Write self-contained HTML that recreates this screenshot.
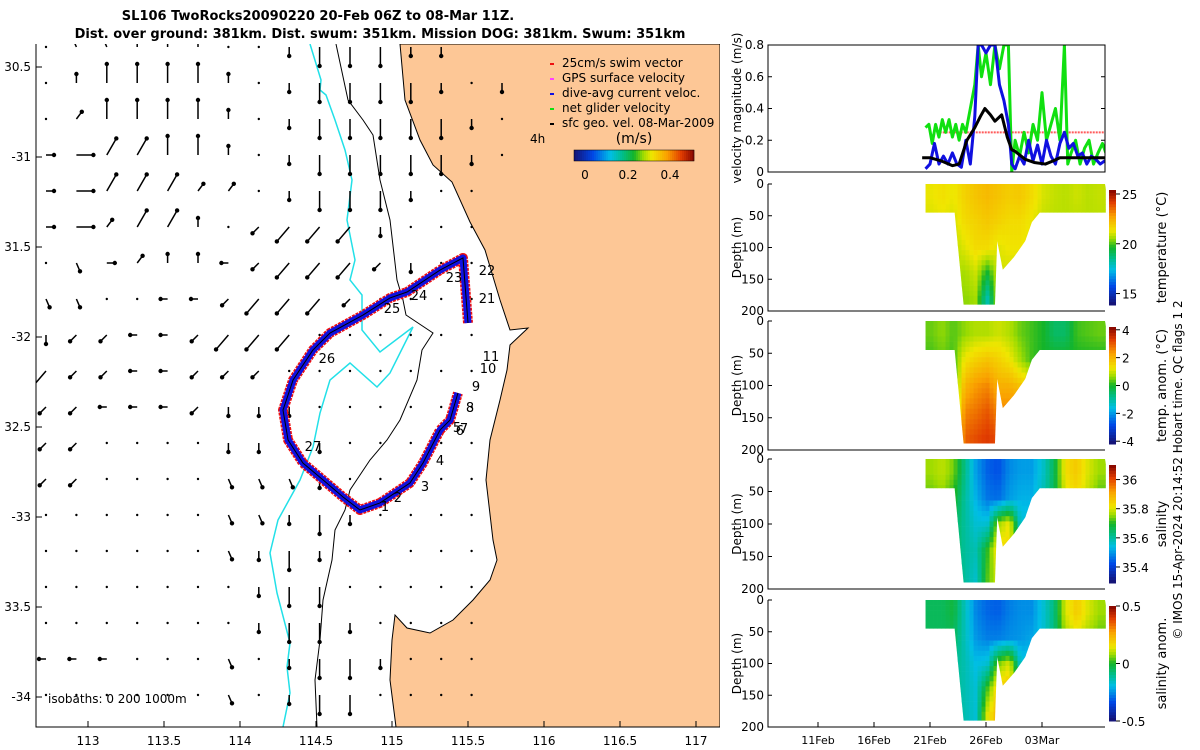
<!DOCTYPE html>
<html><head><meta charset="utf-8">
<style>
html,body{margin:0;padding:0;background:#fff;}
svg{display:block;font-family:"DejaVu Sans","Liberation Sans",sans-serif;}
</style></head>
<body>
<svg id="fig" width="1200" height="750" viewBox="0 0 1200 750" xmlns="http://www.w3.org/2000/svg">
<text x="318" y="20" font-size="13" font-weight="bold" text-anchor="middle">SL106 TwoRocks20090220 20-Feb 06Z to 08-Mar 11Z.</text>
<text x="380" y="38" font-size="13" font-weight="bold" text-anchor="middle">Dist. over ground: 381km. Dist. swum: 351km. Mission DOG: 381km. Swum: 351km</text>
<g id="map"></g>
<g id="right"></g>
<text transform="translate(1182,470) rotate(-90)" font-size="12" text-anchor="middle">© IMOS 15-Apr-2024 20:14:52 Hobart time. QC flags 1  2</text>
</svg>
<script>
// ---------- data ----------
const lonTicks=[113,113.5,114,114.5,115,115.5,116,116.5,117];
const latTicks=[-30.5,-31,-31.5,-32,-32.5,-33,-33.5,-34];
const latTickLabels=["30.5","-31","31.5","-32","32.5","-33","33.5","-34"];
const trackLon=[115.50,115.467,115.316,115.099,114.987,114.809,114.592,114.480,114.349,114.283,114.316,114.414,114.546,114.678,114.789,114.921,115.118,115.204,115.316,115.382,115.434];
const trackLat=[-31.922,-31.561,-31.628,-31.75,-31.783,-31.878,-31.978,-32.072,-32.239,-32.406,-32.572,-32.700,-32.794,-32.889,-32.961,-32.922,-32.811,-32.700,-32.517,-32.461,-32.311];
const dayLabels=["1","2","3","4","5","6","7","8","9","10","11","21","22","23","24","25","26","27"];
const dayLon=[114.954,115.039,115.217,115.316,115.428,115.447,115.474,115.513,115.553,115.632,115.651,115.625,115.625,115.408,115.178,115.0,114.572,114.480];
const dayLat=[-32.939,-32.889,-32.828,-32.683,-32.5,-32.517,-32.506,-32.389,-32.272,-32.172,-32.106,-31.783,-31.628,-31.667,-31.767,-31.839,-32.117,-32.606];
const vecRows=[
".qqnnn..sSSSss",
".nNNNNn.sSSSSs.s",
".rNNNNn.sSSSSSs.",
"eERRNNn.sSSSSSs.",
"eERRRrr.sSSSs..",
"eErRRn.wWWWs...",
".xernnlwWWWws..",
"xx..llwWWWw....",
"swwllwWWW......",
"Wwwllwww.......",
"wwlllwsss......",
"ww....ss.s.....",
"ww....xxxs.....",
"......xxsSs....",
"......xsSs.....",
".......sSS.....",
".......sSSs....",
"lll...x.sSSs...",
"......x.sSS....",
"......x.sSS...."];
const velTicks=[0,0.2,0.4,0.6,0.8];
const velTickLabels=["0","0.2","0.4","0.6","0.8"];
const greenDays=[20.6,20.9,21.2,21.5,21.8,22.1,22.4,22.7,23,23.3,23.6,23.9,24.2,24.6,25,25.3,25.6,26,26.4,26.8,27.2,27.6,28,28.3,28.6,29,29.4,29.8,30.2,30.6,31,31.4,31.8,32.2,32.6,33,33.3,33.6,34,34.4,34.8,35.2,35.6,36,36.4,36.8,37.1];
const greenVals=[0.28,0.3,0.18,0.3,0.22,0.33,0.25,0.33,0.22,0.3,0.2,0.3,0.25,0.4,0.55,0.8,0.6,0.75,0.55,0.8,0.65,0.8,0.8,0.0,0.2,0.1,0.25,0.12,0.3,0.2,0.5,0.2,0.3,0.4,0.2,0.8,0.05,0.12,0.2,0.05,0.15,0.2,0.05,0.12,0.18,0.1,0.15];
const blueDays=[20.6,21,21.4,21.8,22.2,22.6,23,23.4,23.8,24.2,24.6,25,25.3,25.6,26,26.4,26.8,27.2,27.6,28,28.3,28.6,29,29.4,29.8,30.2,30.6,31,31.4,31.8,32.2,32.6,33,33.4,33.8,34.2,34.6,35,35.4,35.8,36.2,36.6,37.1];
const blueVals=[0.02,0.05,0.18,0.05,0.1,0.05,0.12,0.05,0.03,0.2,0.05,0.35,0.8,0.8,0.75,0.8,0.8,0.55,0.45,0.3,0.05,0.02,0.1,0.05,0.2,0.07,0.17,0.05,0.2,0.1,0.05,0.18,0.25,0.15,0.18,0.1,0.12,0.05,0.1,0.08,0.05,0.07,0.07];
const blackDays=[20.3,21,22,23,23.6,24.3,25,25.5,25.9,26.4,26.8,27.4,27.9,28.3,28.6,29.5,30.3,31.3,32,32.6,33.5,34.5,35.5,37.1];
const blackVals=[0.09,0.09,0.07,0.04,0.05,0.2,0.28,0.35,0.4,0.36,0.32,0.36,0.22,0.14,0.13,0.08,0.06,0.05,0.07,0.09,0.09,0.09,0.09,0.09];
const swimRef=[0.25];
const dateTicks=[11,16,21,26,31];
const dateLabels=["11Feb","16Feb","21Feb","26Feb","03Mar"];
const envDays=[20.6,22.6,23.2,24,25,26,26.8,27,27.5,28.5,29.5,30.1,30.8,37.1];
const envDepth=[45,45,45,190,190,190,190,90,135,115,90,60,45,45];
const binStart=[20.6,21.6,22.6,23.6,24.6,25.6,26.6,27.6,28.6,29.6,30.6,31.6,32.6,33.6,34.6,35.6];
const tempVals=[[21.3,21.5,21.3,21.8,22.1,22.3,22.1,21.9,22,21.6,21.1,20.9,20.8,21,20.8,20.9],[21.1,21.2,21.1,21.6,21.8,22,21.8,21.6,21.6,21.3,20.9,20.8,20.8,20.8,20.8,20.8],[20.8,20.8,20.8,21.2,21.6,21.6,21.2,21.4,21.4,21.1,20.8,20.8,20.8,20.8,20.8,20.8],[20.8,20.8,20.8,20.6,21,19.5,21,21,20.8,20.8,20.8,20.8,20.8,20.8,20.8,20.8],[20.8,20.8,20.8,20.4,20.6,18,20.8,20.8,20.8,20.8,20.8,20.8,20.8,20.8,20.8,20.8]];
const tAnomVals=[[0.4,0.6,0.3,0.6,0.8,0.8,1,0.8,0.4,0.2,0,-0.5,-0.5,0.2,0.3,0.4],[0.2,0.4,0.2,1.3,1.6,1.8,1.6,1.3,0.7,0.2,0,0,0,0,0,0],[0,0,0,2,2.4,2.6,2.1,2.1,1.8,1.4,1,1,1,1,1,1],[0,0,0,2.6,2.8,3.1,2.6,2.6,2.6,2.6,2.6,2.6,2.6,2.6,2.6,2.6],[0,0,0,3,3.2,3.4,3.2,3.2,3.2,3.2,3.2,3.2,3.2,3.2,3.2,3.2]];
const salVals=[[35.76,35.78,35.74,35.62,35.5,35.44,35.42,35.48,35.5,35.5,35.56,35.66,35.83,35.86,35.8,35.76],[35.73,35.75,35.7,35.6,35.52,35.46,35.45,35.5,35.52,35.52,35.58,35.66,35.8,35.83,35.78,35.72],[35.66,35.66,35.66,35.6,35.55,35.55,35.76,35.82,35.55,35.55,35.55,35.55,35.55,35.55,35.55,35.55],[35.66,35.66,35.66,35.6,35.58,35.7,35.84,35.84,35.62,35.62,35.62,35.62,35.62,35.62,35.62,35.62],[35.66,35.66,35.66,35.6,35.56,35.72,35.8,35.8,35.62,35.62,35.62,35.62,35.62,35.62,35.62,35.62]];
const salAnomVals=[[-0.05,-0.05,-0.02,-0.15,-0.27,-0.31,-0.32,-0.28,-0.26,-0.26,-0.18,-0.08,0.13,0.2,0.13,0.08],[-0.05,-0.05,-0.05,-0.15,-0.25,-0.28,-0.28,-0.26,-0.25,-0.23,-0.18,-0.08,0.08,0.13,0.08,0.04],[-0.1,-0.1,-0.1,-0.14,-0.2,-0.18,0.05,0.13,-0.18,-0.18,-0.18,-0.18,-0.18,-0.18,-0.18,-0.18],[-0.1,-0.1,-0.1,-0.14,-0.18,0.02,0.2,0.22,-0.05,-0.05,-0.05,-0.05,-0.05,-0.05,-0.05,-0.05],[-0.1,-0.1,-0.1,-0.14,-0.18,0.13,0.25,0.25,-0.05,-0.05,-0.05,-0.05,-0.05,-0.05,-0.05,-0.05]];
const depthTicks=[0,50,100,150,200];

// ---------- helpers ----------
const NS="http://www.w3.org/2000/svg";
function mk(tag,attrs,parent){const e=document.createElementNS(NS,tag);for(const k in attrs)e.setAttribute(k,attrs[k]);parent.appendChild(e);return e;}
const cmapStops=[[0,[20,20,120]],[0.15,[0,70,230]],[0.3,[0,190,230]],[0.4,[0,190,140]],[0.5,[20,180,40]],[0.58,[160,220,0]],[0.65,[240,230,0]],[0.78,[250,160,0]],[0.9,[225,60,0]],[1,[140,10,0]]];
function jet(t){t=Math.max(0,Math.min(1,t));for(let i=1;i<cmapStops.length;i++){const [t1,c1]=cmapStops[i];if(t<=t1){const [t0,c0]=cmapStops[i-1];const f=(t-t0)/(t1-t0);return `rgb(${Math.round(c0[0]+(c1[0]-c0[0])*f)},${Math.round(c0[1]+(c1[1]-c0[1])*f)},${Math.round(c0[2]+(c1[2]-c0[2])*f)})`;}}return 'rgb(140,10,0)';}
const lonX=l=>88+(l-113)*152;
const latY=l=>67+(-30.5-l)*180;
const map=document.getElementById('map');
const right=document.getElementById('right');

// ---------- map ----------
mk('defs',{},map).innerHTML='<clipPath id="mapclip"><rect x="36" y="44" width="684" height="683"/></clipPath>';
const mg=mk('g',{'clip-path':'url(#mapclip)'},map);
let land=mk('path',{d:"M400,44 L405,100 L420,140 L433,165 L452,182 L470,222 L485,250 L500,300 L510,330 L528,328 L510,345 L507,370 L500,400 L490,440 L486,480 L493,540 L497,560 L490,580 L473,600 L453,620 L430,633 L407,628 L395,615 L392,640 L390,680 L396,727 L720,727 L720,44 Z",fill:"#fdc796",stroke:"#000","stroke-width":"1"},mg);


let iso200=mk('path',{d:"M310,44 L321,80 L320,90 L326,95 L335,120 L345,150 L352,180 L347,220 L355,260 L350,280 L362,295 L362,330 L380,352 L413,327 L390,373 L377,387 L350,363 L330,380 L320,413 L313,447 L300,480 L278,520 L270,553 L277,593 L290,643 L287,667 L290,693 L283,727",fill:"none",stroke:"#22e0e8","stroke-width":"1.5"},mg);


let iso1000=mk('path',{d:"M336,44 L348,100 L363,120 L373,135 L380,180 L390,220 L397,280 L403,300 L406,315 L433,333 L422,350 L417,380 L400,420 L387,440 L370,460 L350,490 L345,510 L335,530 L332,560 L323,600 L320,640 L315,680 L317,727",fill:"none",stroke:"#000","stroke-width":"1"},mg);


const dirs={N:[0,-1,19],n:[0,-1,9],S:[0,1,19],s:[0,1,9],W:[-0.65,0.76,19],w:[-0.7,0.7,9],E:[1,0,17],e:[1,0,8],R:[0.5,-0.87,19],r:[0.6,-0.8,9],l:[-1,0,7],x:[0.4,0.92,9],q:[-0.4,-0.92,10]};
vecRows.forEach((row,j)=>{
  for(let i=0;i<row.length;i++){
    const x=46+i*30.4, y=47+j*36, c=row[i], d=dirs[c];
    const ex=d?x+d[0]*d[2]:x, ey=d?y+d[1]*d[2]:y;
    if(d){const a=mk('line',{x1:x,y1:y,x2:ex,y2:ey,stroke:"#000","stroke-width":"1.5"},mg);
      
      }
    mk('circle',{cx:ex,cy:ey,r:d?2.2:1.2,fill:"#000"},mg);
  }
});
const pts=trackLon.map((l,i)=>lonX(l)+','+latY(trackLat[i])).join(' ');
let trd=mk('polyline',{points:pts,fill:"none",stroke:"#ee1010","stroke-width":"10","stroke-linejoin":"round","stroke-dasharray":"3 1"},mg);


let tb=mk('polyline',{points:pts,fill:"none",stroke:"#1010e0","stroke-width":"7","stroke-linejoin":"round"},mg);


mk('polyline',{points:pts,fill:"none",stroke:"#000","stroke-width":"1"},mg);
dayLabels.forEach((t,i)=>{const e=mk('text',{x:lonX(dayLon[i]),y:latY(dayLat[i])+5,'font-size':"13","text-anchor":"middle"},mg);e.textContent=t;
 
 });
mk('polyline',{points:"36,44 36,727 720,727",fill:"none",stroke:"#000"},map);
lonTicks.forEach(l=>{const x=lonX(l);mk('line',{x1:x,y1:727,x2:x,y2:721,stroke:"#000"},map);
 const t=mk('text',{x:x,y:745,'font-size':"12","text-anchor":"middle"},map);t.textContent=l;
 
 });
latTicks.forEach((l,i)=>{const y=latY(l);mk('line',{x1:36,y1:y,x2:42,y2:y,stroke:"#000"},map);
 const t=mk('text',{x:31,y:y+4,'font-size':"12","text-anchor":"end"},map);t.textContent=latTickLabels[i];
 
 });
let iso=mk('text',{x:48,y:703,'font-size':"12"},map);iso.textContent="isobaths: 0   200  1000m";


const leg=[["#ee1010","25cm/s swim vector"],["#ff40ff","GPS surface velocity"],["#1010e0","dive-avg current veloc."],["#10e010","net glider velocity"],["#000","sfc geo. vel. 08-Mar-2009"]];
leg.forEach((d,i)=>{const y=62+i*15;mk('rect',{x:550,y:y+1,width:4,height:2,fill:d[0]},map);
 const t=mk('text',{x:562,y:y+5,'font-size':"12"},map);t.textContent=d[1];
 
 });
let t4=mk('text',{x:530,y:143,'font-size':"12"},map);t4.textContent="4h";
let tu=mk('text',{x:634,y:143,'font-size':"14","text-anchor":"middle"},map);tu.textContent="(m/s)";
for(let k=0;k<60;k++)mk('rect',{x:574+k*2,y:150,width:2.2,height:11,fill:jet(k/59)},map);
mk('rect',{x:574,y:150,width:120,height:11,fill:"none",stroke:"#000","stroke-width":"0.5"},map);
[["0",585],["0.2",628],["0.4",670]].forEach(d=>{const t=mk('text',{x:d[1],y:179,'font-size':"12","text-anchor":"middle"},map);t.textContent=d[0];});

// ---------- right panels ----------
const PX0=768,PX1=1105;
const dayX=d=>818+(d-11)*11.2;
const VY0=172,VY1=45;const velY=v=>VY0-(v/0.8)*(VY0-VY1);
mk('defs',{},right).innerHTML='<clipPath id="vclip"><rect x="768" y="45" width="337" height="127"/></clipPath>';
const vg=mk('g',{'clip-path':'url(#vclip)'},right);
let sr=mk('line',{x1:dayX(21.6),y1:velY(swimRef[0]),x2:PX1,y2:velY(swimRef[0]),stroke:"#f33","stroke-width":"2","stroke-dasharray":"2 1",opacity:"0.8"},vg);


function series(days,vals,col,w,name){const e=mk('polyline',{points:days.map((d,i)=>dayX(d)+','+velY(vals[i])).join(' '),fill:"none",stroke:col,"stroke-width":w,"stroke-linejoin":"round"},vg);
 }
series(greenDays,greenVals,"#10e010",3,'net-glider-velocity-line');
series(blueDays,blueVals,"#1010e0",3,'dive-avg-current-line');
series(blackDays,blackVals,"#000",3,'sfc-geo-velocity-line');
mk('rect',{x:PX0,y:VY1,width:PX1-PX0,height:VY0-VY1,fill:"none",stroke:"#000"},right);
velTicks.forEach((v,i)=>{const y=velY(v);mk('line',{x1:PX0,y1:y,x2:PX0+4,y2:y,stroke:"#000"},right);mk('line',{x1:PX1,y1:y,x2:PX1-4,y2:y,stroke:"#000"},right);
 const t=mk('text',{x:764,y:y+4,'font-size':"12","text-anchor":"end"},right);t.textContent=velTickLabels[i];
 });
let vl=mk('text',{transform:"translate(741,108) rotate(-90)",'font-size':"12","text-anchor":"middle"},right);vl.textContent="velocity magnitude (m/s)";


const panels=[
 {y0:184,y1:311,vals:tempVals,min:13.85,max:25.4,ticks:[15,20,25],labels:["15","20","25"],title:"temperature (°C)",name:"temperature-section"},
 {y0:321,y1:450,vals:tAnomVals,min:-4.2,max:4.2,ticks:[-4,-2,0,2,4],labels:["-4","-2","0","2","4"],title:"temp. anom. (°C)",name:"temp-anomaly-section"},
 {y0:459,y1:589,vals:salVals,min:35.29,max:36.1,ticks:[35.4,35.6,35.8,36],labels:["35.4","35.6","35.8","36"],title:"salinity",name:"salinity-section"},
 {y0:600,y1:727,vals:salAnomVals,min:-0.5,max:0.5,ticks:[-0.5,0,0.5],labels:["-0.5","0","0.5"],title:"salinity anom.",name:"salinity-anomaly-section"}];
function sample(vals,c,r){
 const nr=vals.length,nc=vals[0].length;
 c=Math.max(0,Math.min(nc-1,c));r=Math.max(0,Math.min(nr-1,r));
 const c0=Math.floor(c),r0=Math.floor(r),c1=Math.min(nc-1,c0+1),r1=Math.min(nr-1,r0+1),fc=c-c0,fr=r-r0;
 const a=vals[r0][c0]*(1-fc)+vals[r0][c1]*fc,b=vals[r1][c0]*(1-fc)+vals[r1][c1]*fc;return a*(1-fr)+b*fr;}
panels.forEach((p,pi)=>{
 const dY=d=>p.y0+d/200*(p.y1-p.y0);
 const cid='pc'+pi;
 const env=envDays.map((d,i)=>dayX(d)+','+dY(envDepth[i])).join(' ');
 mk('defs',{},right).innerHTML=`<clipPath id="${cid}"><polygon points="${dayX(20.6)},${p.y0} ${env} ${PX1},${p.y0}"/></clipPath>`;
 const g=mk('g',{'clip-path':`url(#${cid})`},right);
 
 
 const bw=dayX(binStart[1])-dayX(binStart[0]);
 for(let x=dayX(binStart[0]);x<PX1;x+=4){
  for(let d=0;d<200;d+=8){
   const c=(x+2-dayX(binStart[0]))/bw-0.5, r=(d+4)/40-0.5;
   const v=sample(p.vals,c,r);
   const cell=mk('rect',{x:x,y:dY(d),width:4.3,height:dY(8)-dY(0)+0.3,fill:jet((v-p.min)/(p.max-p.min))},g);
   
   
  }
 }
 mk('polyline',{points:`${PX0},${p.y0} ${PX0},${p.y1} ${PX1},${p.y1}`,fill:"none",stroke:"#000"},right);
 depthTicks.forEach(d=>{const y=dY(d);mk('line',{x1:PX0,y1:y,x2:PX0+4,y2:y,stroke:"#000"},right);
  const t=mk('text',{x:764,y:y+4,'font-size':"12","text-anchor":"end"},right);t.textContent=d;
  });
 const yl=mk('text',{transform:`translate(741,${(p.y0+p.y1)/2}) rotate(-90)`,'font-size':"12","text-anchor":"middle"},right);yl.textContent="Depth (m)";
 
 const cb0=p.y0+6,cb1=p.y1-6;const n=40;
 for(let k=0;k<n;k++)mk('rect',{x:1109,y:cb0+(cb1-cb0)*k/n,width:7,height:(cb1-cb0)/n+0.5,fill:jet(1-k/(n-1))},right);
 const cbY=v=>cb1-(v-p.min)/(p.max-p.min)*(cb1-cb0);
 p.ticks.forEach((v,i)=>{const y=cbY(v);mk('line',{x1:1116,y1:y,x2:1120,y2:y,stroke:"#000"},right);
  const t=mk('text',{x:1122,y:y+5,'font-size':"12"},right);t.textContent=p.labels[i];
  });
 const ct=mk('text',{transform:`translate(1166,${(p.y0+p.y1)/2}) rotate(-90)`,'font-size':"13","text-anchor":"middle"},right);ct.textContent=p.title;
 
});
dateTicks.forEach((d,i)=>{const x=dayX(d);mk('line',{x1:x,y1:727,x2:x,y2:722,stroke:"#000"},right);
 const t=mk('text',{x:x,y:744,'font-size':"11","text-anchor":"middle"},right);t.textContent=dateLabels[i];
 });
</script>
</body></html>
